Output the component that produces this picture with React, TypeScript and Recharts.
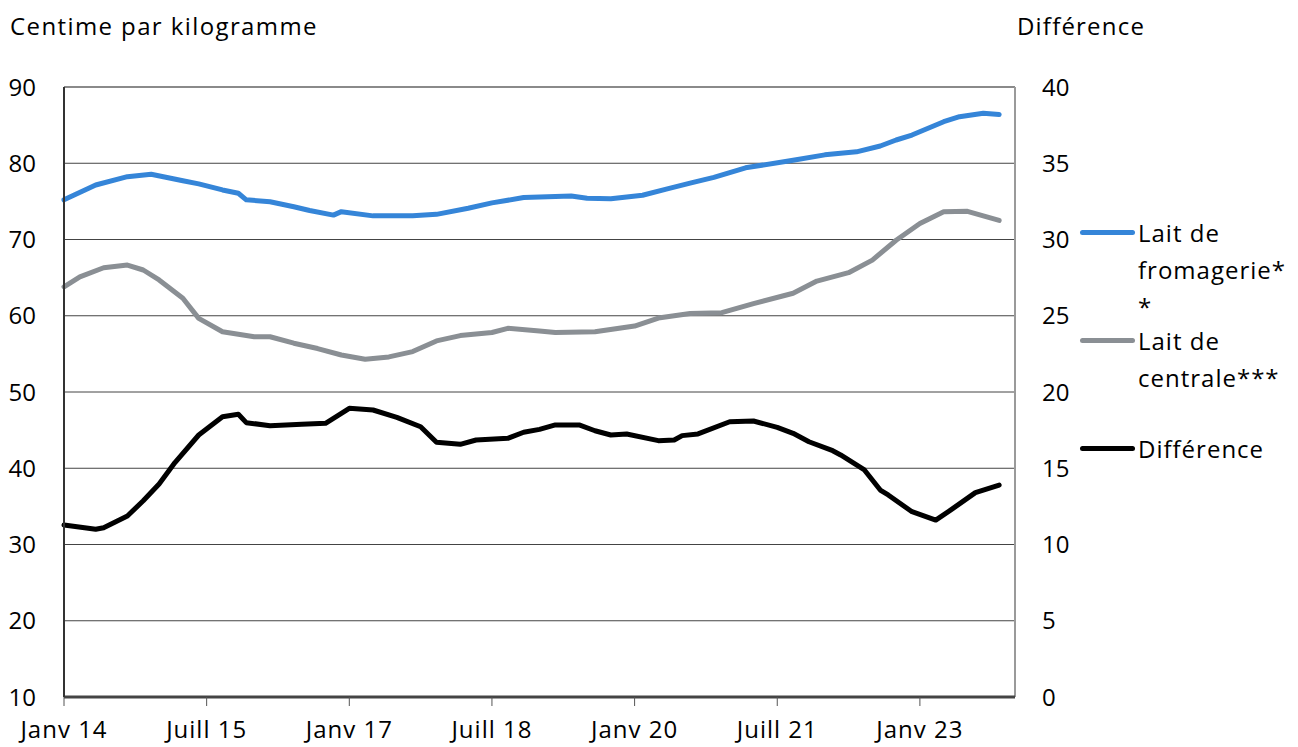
import React from 'react';
import { LineChart, Line, XAxis, YAxis, CartesianGrid, ReferenceLine } from 'recharts';

// x axis: months since Janv 2014
const tickMonths = [0, 18, 36, 54, 72, 90, 108];
const tickLabels = ['Janv 14', 'Juill 15', 'Janv 17', 'Juill 18', 'Janv 20', 'Juill 21', 'Janv 23'];
const leftTicks = [10, 20, 30, 40, 50, 60, 70, 80, 90];
const rightTicks = [0, 5, 10, 15, 20, 25, 30, 35, 40];

// Lait de fromagerie (centime/kg)
const fromMonths = [0, 4, 8, 11, 15, 17, 20, 22, 23, 26, 29, 31, 34, 35, 39, 44, 47, 51, 54, 58, 64, 66, 69, 73, 76, 79, 82, 86, 92, 96, 100, 103, 105, 107, 111, 113, 116, 118];
const fromValues = [75.2, 77.15, 78.24, 78.55, 77.7, 77.3, 76.5, 76.06, 75.2, 74.96, 74.3, 73.8, 73.2, 73.65, 73.1, 73.1, 73.3, 74.1, 74.8, 75.5, 75.7, 75.4, 75.35, 75.8, 76.6, 77.4, 78.15, 79.4, 80.4, 81.1, 81.5, 82.26, 83.05, 83.7, 85.45, 86.1, 86.55, 86.4];

// Lait de centrale (centime/kg)
const centMonths = [0, 2, 5, 8, 10, 12, 15, 17, 20, 24, 26, 29, 32, 35, 38, 41, 44, 47, 50, 52, 54, 56, 60, 62, 67, 72, 75, 79, 83, 87, 92, 95, 99, 102, 105, 108, 111, 114, 116, 118];
const centValues = [63.8, 65.1, 66.3, 66.65, 66.0, 64.7, 62.3, 59.66, 57.9, 57.25, 57.25, 56.4, 55.7, 54.85, 54.3, 54.6, 55.3, 56.7, 57.4, 57.6, 57.8, 58.35, 58.0, 57.8, 57.9, 58.65, 59.7, 60.3, 60.4, 61.6, 62.95, 64.55, 65.65, 67.3, 69.9, 72.1, 73.65, 73.7, 73.1, 72.5];

// Différence (right axis)
const diffMonths = [0, 4, 5, 8, 10, 12, 14, 17, 20, 22, 23, 26, 30, 33, 34, 36, 39, 42, 45, 47, 50, 52, 56, 58, 60, 62, 65, 67, 69, 71, 75, 77, 78, 80, 84, 87, 90, 92, 94, 97, 98, 101, 103, 104, 107, 110, 112, 115, 118];
const diffValues = [11.28, 11.0, 11.1, 11.87, 12.87, 13.97, 15.37, 17.18, 18.38, 18.54, 17.99, 17.79, 17.88, 17.95, 18.27, 18.93, 18.82, 18.34, 17.72, 16.7, 16.57, 16.85, 16.96, 17.36, 17.55, 17.84, 17.84, 17.46, 17.18, 17.25, 16.81, 16.85, 17.14, 17.25, 18.05, 18.1, 17.68, 17.29, 16.74, 16.15, 15.87, 14.89, 13.57, 13.25, 12.15, 11.6, 12.3, 13.4, 13.9];

const seriesNames = ['Lait de fromagerie**', 'Lait de centrale***', 'Différence'];
const legendLines = [['Lait de', 'fromagerie*', '*'], ['Lait de', 'centrale***'], ['Différence']];
const colors = ['#3585d8', '#8a8f94', '#000000'];

const fromData = fromMonths.map((m, i) => ({ m, v: fromValues[i] }));
const centData = centMonths.map((m, i) => ({ m, v: centValues[i] }));
const diffData = diffMonths.map((m, i) => ({ m, v: diffValues[i] }));

const FONT = '"Open Sans", sans-serif';
const FS = 24;

export default function App() {
  const tickStyle = { fontSize: FS, fill: '#000', fontFamily: FONT };
  return (
    <div style={{ position: 'absolute', left: 0, top: 0, width: 1298, height: 747, background: '#fff', fontFamily: FONT, overflow: 'hidden' }}>
      <LineChart width={1298} height={747} margin={{ top: 87, right: 223, left: 0, bottom: 0 }}>
        <CartesianGrid yAxisId="left" vertical={false} horizontalValues={leftTicks} stroke="#444" strokeWidth={1} />
        <XAxis
          dataKey="m"
          type="number"
          domain={[0, 120]}
          ticks={tickMonths}
          tickFormatter={(v: number) => tickLabels[tickMonths.indexOf(v)]}
          allowDuplicatedCategory={false}
          height={50}
          stroke="#444"
          strokeWidth={3}
          tickSize={9}
          tickMargin={15}
          tick={{ ...tickStyle, letterSpacing: 1 }}
          tickLine={{ stroke: '#555', strokeWidth: 1 }}
        />
        <YAxis
          yAxisId="left"
          domain={[10, 90]}
          ticks={leftTicks}
          width={64}
          stroke="#333"
          strokeWidth={2}
          tickLine={false}
          tickSize={0}
          tickMargin={28}
          tick={tickStyle}
          interval={0}
        />
        <YAxis
          yAxisId="right"
          orientation="right"
          domain={[0, 40]}
          ticks={rightTicks}
          width={60}
          axisLine={false}
          tickLine={false}
          tickSize={0}
          tickMargin={27}
          tick={{ ...tickStyle, textAnchor: 'start' }}
          interval={0}
        />
        <ReferenceLine yAxisId="left" y={90} stroke="#8a8a8a" strokeWidth={2} />
        <ReferenceLine yAxisId="left" x={120} stroke="#9a9a9a" strokeWidth={2} />
        <Line yAxisId="left" data={fromData} dataKey="v" name={seriesNames[0]} stroke={colors[0]} strokeWidth={5} dot={false} isAnimationActive={false} strokeLinecap="round" strokeLinejoin="round" />
        <Line yAxisId="left" data={centData} dataKey="v" name={seriesNames[1]} stroke={colors[1]} strokeWidth={5} dot={false} isAnimationActive={false} strokeLinecap="round" strokeLinejoin="round" />
        <Line yAxisId="right" data={diffData} dataKey="v" name={seriesNames[2]} stroke={colors[2]} strokeWidth={5} dot={false} isAnimationActive={false} strokeLinecap="round" strokeLinejoin="round" />
      </LineChart>
      <div style={{ position: 'absolute', left: 10, top: 10, fontSize: FS, lineHeight: '32px', letterSpacing: 1.4, color: '#000', whiteSpace: 'nowrap' }}>Centime par kilogramme</div>
      <div style={{ position: 'absolute', left: 1017, top: 10, fontSize: FS, lineHeight: '32px', letterSpacing: 1.2, color: '#000', whiteSpace: 'nowrap' }}>Différence</div>
      {legendLines.map((lines, i) => {
        const tops = [214, 322, 430];
        return (
          <div key={i} style={{ position: 'absolute', left: 1080, top: tops[i], display: 'flex', alignItems: 'flex-start' }}>
            <div style={{ width: 55, height: 5, borderRadius: 3, background: colors[i], marginTop: 16 }} />
            <div style={{ marginLeft: 3, fontSize: FS, lineHeight: '37px', letterSpacing: 1, color: '#000', whiteSpace: 'nowrap' }}>
              {lines.map((t, j) => (
                <div key={j}>{t}</div>
              ))}
            </div>
          </div>
        );
      })}
    </div>
  );
}
